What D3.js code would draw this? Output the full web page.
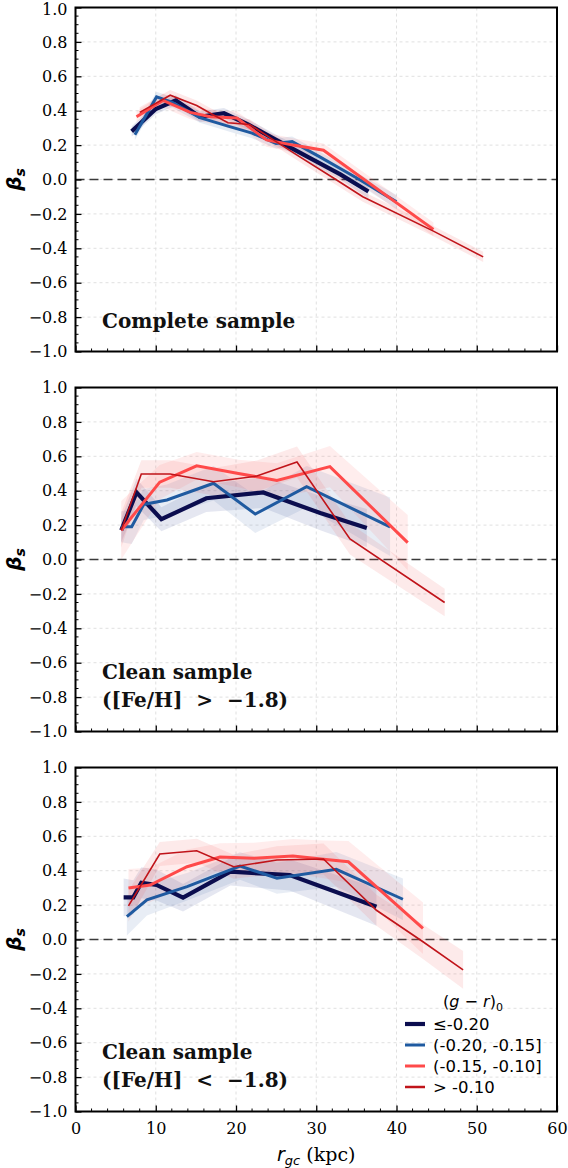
<!DOCTYPE html>
<html><head><meta charset="utf-8">
<script src="https://cdn.jsdelivr.net/npm/d3@7"></script>
<style>body{margin:0;background:#fff}svg{display:block}</style>
</head><body><svg id="c" width="568" height="1168"></svg>
<script>
// ---- data ----
const colorBins = ["≤-0.20", "(-0.20, -0.15]", "(-0.15, -0.10]", "> -0.10"];
const xTicks = [0, 10, 20, 30, 40, 50, 60];
const yTicks = [-1.0, -0.8, -0.6, -0.4, -0.2, 0.0, 0.2, 0.4, 0.6, 0.8, 1.0];
const panelLabels = [["Complete sample"], ["Clean sample", "([Fe/H]  >  −1.8)"], ["Clean sample", "([Fe/H]  <  −1.8)"]];

// Panel 1: complete sample
const p1NavyR = [7.0, 10.0, 12.5, 15.5, 18.5, 21.5, 25.0, 29.0, 33.0, 36.5];
const p1NavyB = [0.28, 0.41, 0.46, 0.365, 0.385, 0.32, 0.23, 0.13, 0.03, -0.07];
const p1NavyE = [0.03, 0.03, 0.03, 0.03, 0.03, 0.03, 0.03, 0.03, 0.03, 0.04];
const p1BlueR = [7.4, 10.1, 12.0, 15.5, 19.0, 22.0, 25.0, 27.0, 30.5, 35.0, 40.0];
const p1BlueB = [0.26, 0.48, 0.45, 0.36, 0.31, 0.27, 0.21, 0.22, 0.13, 0.01, -0.13];
const p1BlueE = [0.03, 0.03, 0.03, 0.03, 0.03, 0.03, 0.03, 0.03, 0.03, 0.03, 0.04];
const p1RedR = [7.6, 10.9, 14.3, 16.8, 20.1, 23.8, 27.1, 30.9, 44.6];
const p1RedB = [0.365, 0.46, 0.39, 0.365, 0.357, 0.23, 0.20, 0.17, -0.29];
const p1RedE = [0.03, 0.04, 0.04, 0.04, 0.04, 0.04, 0.04, 0.04, 0.04];
const p1DredR = [8.0, 11.8, 15.1, 17.2, 19.0, 21.7, 25.0, 28.0, 32.1, 35.8, 44.6, 50.8];
const p1DredB = [0.39, 0.49, 0.43, 0.375, 0.33, 0.32, 0.22, 0.13, 0.01, -0.10, -0.30, -0.45];
const p1DredE = [0.03, 0.03, 0.03, 0.03, 0.03, 0.03, 0.03, 0.03, 0.03, 0.03, 0.03, 0.03];

// Panel 2: clean sample, [Fe/H] > -1.8
const p2NavyR = [5.7, 7.6, 10.7, 16.3, 23.4, 30.5, 36.3];
const p2NavyB = [0.17, 0.39, 0.234, 0.356, 0.39, 0.27, 0.183];
const p2NavyE = [0.07, 0.08, 0.07, 0.08, 0.09, 0.10, 0.11];
const p2BlueR = [5.7, 7.0, 8.5, 11.4, 17.2, 22.4, 28.8, 39.2];
const p2BlueB = [0.19, 0.19, 0.32, 0.346, 0.443, 0.264, 0.423, 0.19];
const p2BlueE = [0.09, 0.10, 0.09, 0.09, 0.10, 0.11, 0.12, 0.17];
const p2RedR = [5.7, 10.5, 15.1, 20.3, 25.1, 31.7, 41.4];
const p2RedB = [0.17, 0.45, 0.545, 0.50, 0.46, 0.54, 0.098];
const p2RedE = [0.17, 0.10, 0.08, 0.08, 0.10, 0.12, 0.16];
const p2DredR = [5.7, 8.2, 11.8, 17.2, 22.6, 27.6, 34.2, 46.0];
const p2DredB = [0.17, 0.497, 0.497, 0.452, 0.485, 0.567, 0.119, -0.25];
const p2DredE = [0.10, 0.08, 0.08, 0.08, 0.09, 0.09, 0.09, 0.08];

// Panel 3: clean sample, [Fe/H] < -1.8
const p3NavyR = [6.0, 7.2, 8.2, 10.1, 13.4, 19.3, 26.7, 37.5];
const p3NavyB = [0.245, 0.245, 0.33, 0.317, 0.243, 0.394, 0.375, 0.19];
const p3NavyE = [0.11, 0.10, 0.09, 0.09, 0.08, 0.08, 0.09, 0.11];
const p3BlueR = [6.4, 8.9, 13.9, 20.5, 25.1, 32.5, 40.8];
const p3BlueB = [0.133, 0.23, 0.307, 0.427, 0.356, 0.408, 0.234];
const p3BlueE = [0.11, 0.09, 0.08, 0.08, 0.09, 0.10, 0.12];
const p3RedR = [6.6, 9.3, 13.9, 18.0, 22.2, 27.1, 30.9, 34.0, 43.3];
const p3RedB = [0.30, 0.317, 0.423, 0.48, 0.472, 0.485, 0.466, 0.452, 0.065];
const p3RedE = [0.11, 0.10, 0.10, 0.08, 0.09, 0.10, 0.11, 0.12, 0.15];
const p3DredR = [6.6, 10.5, 15.1, 19.7, 25.1, 30.9, 37.5, 43.3, 48.3];
const p3DredB = [0.195, 0.497, 0.516, 0.423, 0.462, 0.468, 0.17, -0.013, -0.177];
const p3DredE = [0.09, 0.07, 0.07, 0.07, 0.08, 0.09, 0.09, 0.10, 0.11];

// ---- styles ----
const seriesColors = ["#0b0d4f", "#1f5aa0", "#ff4a4a", "#c0141a"];
const bandColors = ["#283c8c", "#3e6aaa", "#ff6a6a", "#ee5050"];
const seriesWidths = [4.2, 3, 3, 1.6];

const panels = [
  [[p1NavyR, p1NavyB, p1NavyE], [p1BlueR, p1BlueB, p1BlueE], [p1RedR, p1RedB, p1RedE], [p1DredR, p1DredB, p1DredE]],
  [[p2NavyR, p2NavyB, p2NavyE], [p2BlueR, p2BlueB, p2BlueE], [p2RedR, p2RedB, p2RedE], [p2DredR, p2DredB, p2DredE]],
  [[p3NavyR, p3NavyB, p3NavyE], [p3BlueR, p3BlueB, p3BlueE], [p3RedR, p3RedB, p3RedE], [p3DredR, p3DredB, p3DredE]]
];

const svg = d3.select("#c");
const L = 75.5, R = 557, H = 344;
const tops = [7.5, 387.5, 767.5];
const x = d3.scaleLinear().domain([0, 60]).range([L, R]);
const tickFont = "DejaVu Serif, serif";

panels.forEach((series, pi) => {
  const top = tops[pi];
  const y = d3.scaleLinear().domain([-1, 1]).range([top + H, top]);
  const g = svg.append("g");

  // grid
  g.append("g").selectAll("line").data(xTicks.slice(1, -1)).join("line")
    .attr("x1", d => x(d)).attr("x2", d => x(d)).attr("y1", top).attr("y2", top + H)
    .attr("stroke", "#e0e0e0").attr("stroke-width", 1).attr("stroke-dasharray", "3,3");
  g.append("g").selectAll("line").data(yTicks.slice(1, -1)).join("line")
    .attr("x1", L).attr("x2", R).attr("y1", d => y(d)).attr("y2", d => y(d))
    .attr("stroke", "#e0e0e0").attr("stroke-width", 1).attr("stroke-dasharray", "3,3");

  // zero line
  g.append("line").attr("x1", L).attr("x2", R).attr("y1", y(0)).attr("y2", y(0))
    .attr("stroke", "#3a3a3a").attr("stroke-width", 1.6).attr("stroke-dasharray", "9,5");

  // bands
  const area = d3.area().x(d => x(d[0])).y0(d => y(d[1] - d[2])).y1(d => y(d[1] + d[2]));
  series.forEach((s, si) => {
    const pts = s[0].map((r, i) => [r, s[1][i], s[2][i]]);
    g.append("path").datum(pts).attr("d", area)
      .attr("fill", bandColors[si]).attr("fill-opacity", pi === 0 ? 0.13 : 0.12).attr("stroke", "none");
  });
  // lines
  const line = d3.line().x(d => x(d[0])).y(d => y(d[1]));
  series.forEach((s, si) => {
    const pts = s[0].map((r, i) => [r, s[1][i]]);
    g.append("path").datum(pts).attr("d", line)
      .attr("fill", "none").attr("stroke", seriesColors[si]).attr("stroke-width", seriesWidths[si])
      .attr("stroke-linejoin", "miter").attr("stroke-linecap", "butt");
  });

  // axes (inward ticks)
  const yAxis = d3.axisLeft(y).tickValues(yTicks).tickSizeInner(-6).tickSizeOuter(0)
    .tickPadding(8).tickFormat(d => d3.format(".1f")(d).replace("-", "−"));
  const ya = g.append("g").attr("transform", `translate(${L},0)`).call(yAxis)
    .attr("font-family", tickFont).attr("font-size", 16);
  ya.select(".domain").remove();
  ya.selectAll("text").attr("fill", "#000");
  if (pi === 0) ya.selectAll("text").filter(d => d === 1.0).attr("dy", "0.45em");
  ya.selectAll("line").attr("stroke", "#000").attr("stroke-width", 1.3);
  const yMinor = d3.range(-1, 1.0001, 0.05).filter(v => Math.abs(Math.round(v * 5) - v * 5) > 1e-6);
  g.append("g").selectAll("line").data(yMinor).join("line")
    .attr("x1", L).attr("x2", L + 3).attr("y1", d => y(d)).attr("y2", d => y(d))
    .attr("stroke", "#000").attr("stroke-width", 1);

  const xAxis = d3.axisBottom(x).tickValues(xTicks).tickSizeInner(-6).tickSizeOuter(0)
    .tickPadding(11).tickFormat(pi === 2 ? d3.format("d") : () => "");
  const xa = g.append("g").attr("transform", `translate(0,${top + H})`).call(xAxis)
    .attr("font-family", tickFont).attr("font-size", 16);
  xa.select(".domain").remove();
  xa.selectAll("text").attr("fill", "#000");
  xa.selectAll("line").attr("stroke", "#000").attr("stroke-width", 1.3);
  const xMinor = d3.range(0, 60.001, 2).filter(v => v % 10 !== 0);
  g.append("g").selectAll("line").data(xMinor).join("line")
    .attr("x1", d => x(d)).attr("x2", d => x(d)).attr("y1", top + H).attr("y2", top + H - 3)
    .attr("stroke", "#000").attr("stroke-width", 1);

  // frame
  g.append("rect").attr("x", L).attr("y", top).attr("width", R - L).attr("height", H)
    .attr("fill", "none").attr("stroke", "#000").attr("stroke-width", 2);

  // y label
  const yl = g.append("text").attr("transform", `translate(21,${top + H / 2}) rotate(-90)`)
    .attr("text-anchor", "middle").attr("font-family", "DejaVu Sans, sans-serif")
    .attr("font-size", 20).attr("font-style", "italic").attr("font-weight", "bold");
  yl.append("tspan").text("β");
  yl.append("tspan").attr("font-size", 14).attr("dy", 4).text("s");

  // panel label
  const lab = panelLabels[pi];
  const baseY = lab.length === 1 ? top + H - 24 : top + H - 53;
  lab.forEach((t, li) => {
    g.append("text").attr("x", 102).attr("y", baseY + li * 28).text(t)
      .attr("xml:space", "preserve").style("white-space", "pre")
      .attr("font-family", "DejaVu Serif, serif").attr("font-weight", "bold").attr("font-size", 20).attr("fill", "#111");
  });
});

// x label
const xl = svg.append("text").attr("x", x(30)).attr("y", 1161).attr("text-anchor", "middle")
  .attr("font-family", tickFont).attr("font-size", 19);
xl.append("tspan").attr("font-family", "DejaVu Sans, sans-serif").attr("font-style", "italic").text("r");
xl.append("tspan").attr("font-family", "DejaVu Sans, sans-serif").attr("font-style", "italic").attr("font-size", 13).attr("dy", 4).text("gc");
xl.append("tspan").attr("dy", -4).text(" (kpc)");

// legend
const lg = svg.append("g");
const lt = lg.append("text").attr("x", 473).attr("y", 1007).attr("text-anchor", "middle")
  .attr("font-family", "DejaVu Sans, sans-serif").attr("font-size", 16);
lt.append("tspan").text("(");
lt.append("tspan").attr("font-style", "italic").text("g");
lt.append("tspan").text(" − ");
lt.append("tspan").attr("font-style", "italic").text("r");
lt.append("tspan").text(")");
lt.append("tspan").attr("font-size", 11).attr("dy", 4).text("0");
colorBins.forEach((lbl, i) => {
  const yy = 1024 + i * 21;
  lg.append("line").attr("x1", 405).attr("x2", 425).attr("y1", yy).attr("y2", yy)
    .attr("stroke", seriesColors[i]).attr("stroke-width", seriesWidths[i] === 1.6 ? 2.5 : seriesWidths[i]);
  lg.append("text").attr("x", 433).attr("y", yy + 6).text(lbl)
    .attr("font-family", "DejaVu Sans, sans-serif").attr("font-size", 16.5).attr("fill", "#000");
});
</script></body></html>
